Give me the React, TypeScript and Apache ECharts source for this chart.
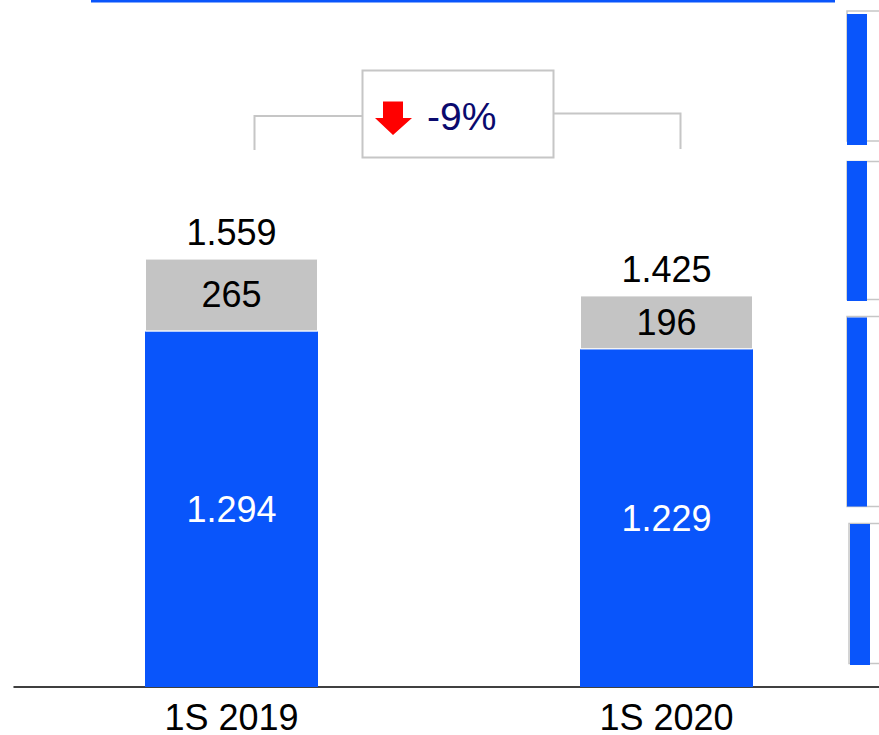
import React, { useEffect, useRef } from "react";
import * as echarts from "echarts";

const categories = ["1S 2019", "1S 2020"];
const blueValues = [1294, 1229];
const grayValues = [265, 196];
const totals = blueValues.map((v, i) => v + grayValues[i]);
const changeLabel = "-9%";

const BLUE = "#0955FB";
const GRAY = "#C4C4C4";
const LINE_GRAY = "#C6C6C6";
const FONT = "'Liberation Sans', Arial, Helvetica, sans-serif";

const fmt = (v: number) => String(v).replace(/\B(?=(\d{3})+(?!\d))/g, ".");

export default function App() {
  const ref = useRef<HTMLDivElement>(null);
  useEffect(() => {
    if (!ref.current) return;
    const chart = echarts.init(ref.current, null, { renderer: "svg" });
    const sideFrames = [
      { fy: 11, fh: 130, by: 14, bh: 131, fx: 847, bx: 847 },
      { fy: 161.5, fh: 138, by: 161, bh: 140, fx: 847, bx: 847 },
      { fy: 316.5, fh: 190, by: 317.5, bh: 189, fx: 847, bx: 847 },
      { fy: 523.5, fh: 140, by: 524, bh: 141, fx: 849, bx: 850 },
    ];
    const graphic: any[] = [
      { type: "rect", shape: { x: 91, y: 0, width: 744, height: 2.5 }, style: { fill: BLUE }, z: 10 },
    ];
    sideFrames.forEach((f) => {
      graphic.push({
        type: "rect",
        shape: { x: f.fx, y: f.fy, width: 60, height: f.fh },
        style: { fill: "none", stroke: LINE_GRAY, lineWidth: 1.5 },
        z: 10,
      });
      graphic.push({
        type: "rect",
        shape: { x: f.bx, y: f.by, width: 20, height: f.bh },
        style: { fill: BLUE },
        z: 11,
      });
    });
    graphic.push({
      type: "polyline",
      shape: { points: [[254.5, 150], [254.5, 116], [362, 116]] },
      style: { stroke: LINE_GRAY, lineWidth: 2, fill: "none" },
      z: 10,
    });
    graphic.push({
      type: "polyline",
      shape: { points: [[554, 113.5], [680.5, 113.5], [680.5, 149]] },
      style: { stroke: LINE_GRAY, lineWidth: 2, fill: "none" },
      z: 10,
    });
    graphic.push({
      type: "rect",
      shape: { x: 362.5, y: 70.5, width: 191, height: 87 },
      style: { fill: "#fff", stroke: LINE_GRAY, lineWidth: 2 },
      z: 10,
    });
    graphic.push({
      type: "polygon",
      shape: {
        points: [
          [383, 101.5], [403, 101.5], [403, 118], [412, 118], [393, 135], [375, 118], [383, 118],
        ],
      },
      style: { fill: "#FF0000" },
      z: 11,
    });
    graphic.push({
      type: "text",
      x: 427,
      y: 116,
      style: {
        text: changeLabel,
        fill: "#0A0A6E",
        font: `39px ${FONT}`,
        verticalAlign: "middle",
      },
      z: 11,
    });

    chart.setOption({
      animation: false,
      backgroundColor: "#fff",
      grid: { left: 14, right: 0, top: 0, bottom: 47 },
      xAxis: {
        type: "category",
        data: categories,
        axisLine: { show: true, lineStyle: { color: "#000", width: 1.5 } },
        axisTick: { show: false },
        axisLabel: {
          color: "#000",
          fontSize: 36,
          fontFamily: FONT,
          margin: 15,
          lineHeight: 30,
        },
      },
      yAxis: {
        type: "value",
        min: 0,
        max: 2500,
        show: false,
        splitLine: { show: false },
      },
      series: [
        {
          type: "bar",
          stack: "a",
          data: blueValues,
          barWidth: 173,
          itemStyle: { color: BLUE },
          label: {
            show: true,
            position: "inside",
            color: "#fff",
            fontSize: 36,
            fontFamily: FONT,
            textBorderWidth: 0,
            formatter: (p: any) => fmt(p.value),
          },
        },
        {
          type: "bar",
          stack: "a",
          data: grayValues,
          barWidth: 173,
          itemStyle: { color: GRAY, borderColor: "#fff", borderWidth: 1 },
          label: {
            show: true,
            position: "inside",
            color: "#000",
            fontSize: 36,
            fontFamily: FONT,
            textBorderWidth: 0,
            formatter: (p: any) => fmt(p.value),
          },
        },
        {
          type: "bar",
          stack: "a",
          data: totals.map(() => 0),
          barWidth: 173,
          itemStyle: { color: GRAY },
          silent: true,
          label: {
            show: true,
            position: "top",
            distance: 8,
            color: "#000",
            fontSize: 36,
            lineHeight: 36,
            fontFamily: FONT,
            textBorderWidth: 0,
            formatter: (p: any) => fmt(totals[p.dataIndex]),
          },
        },
      ],
      graphic,
    });
    return () => chart.dispose();
  }, []);
  return (
    <div style={{ position: "fixed", left: 0, top: 0, width: 879, height: 735, overflow: "hidden" }}>
      <div ref={ref} style={{ width: 884, height: 735 }} />
    </div>
  );
}
